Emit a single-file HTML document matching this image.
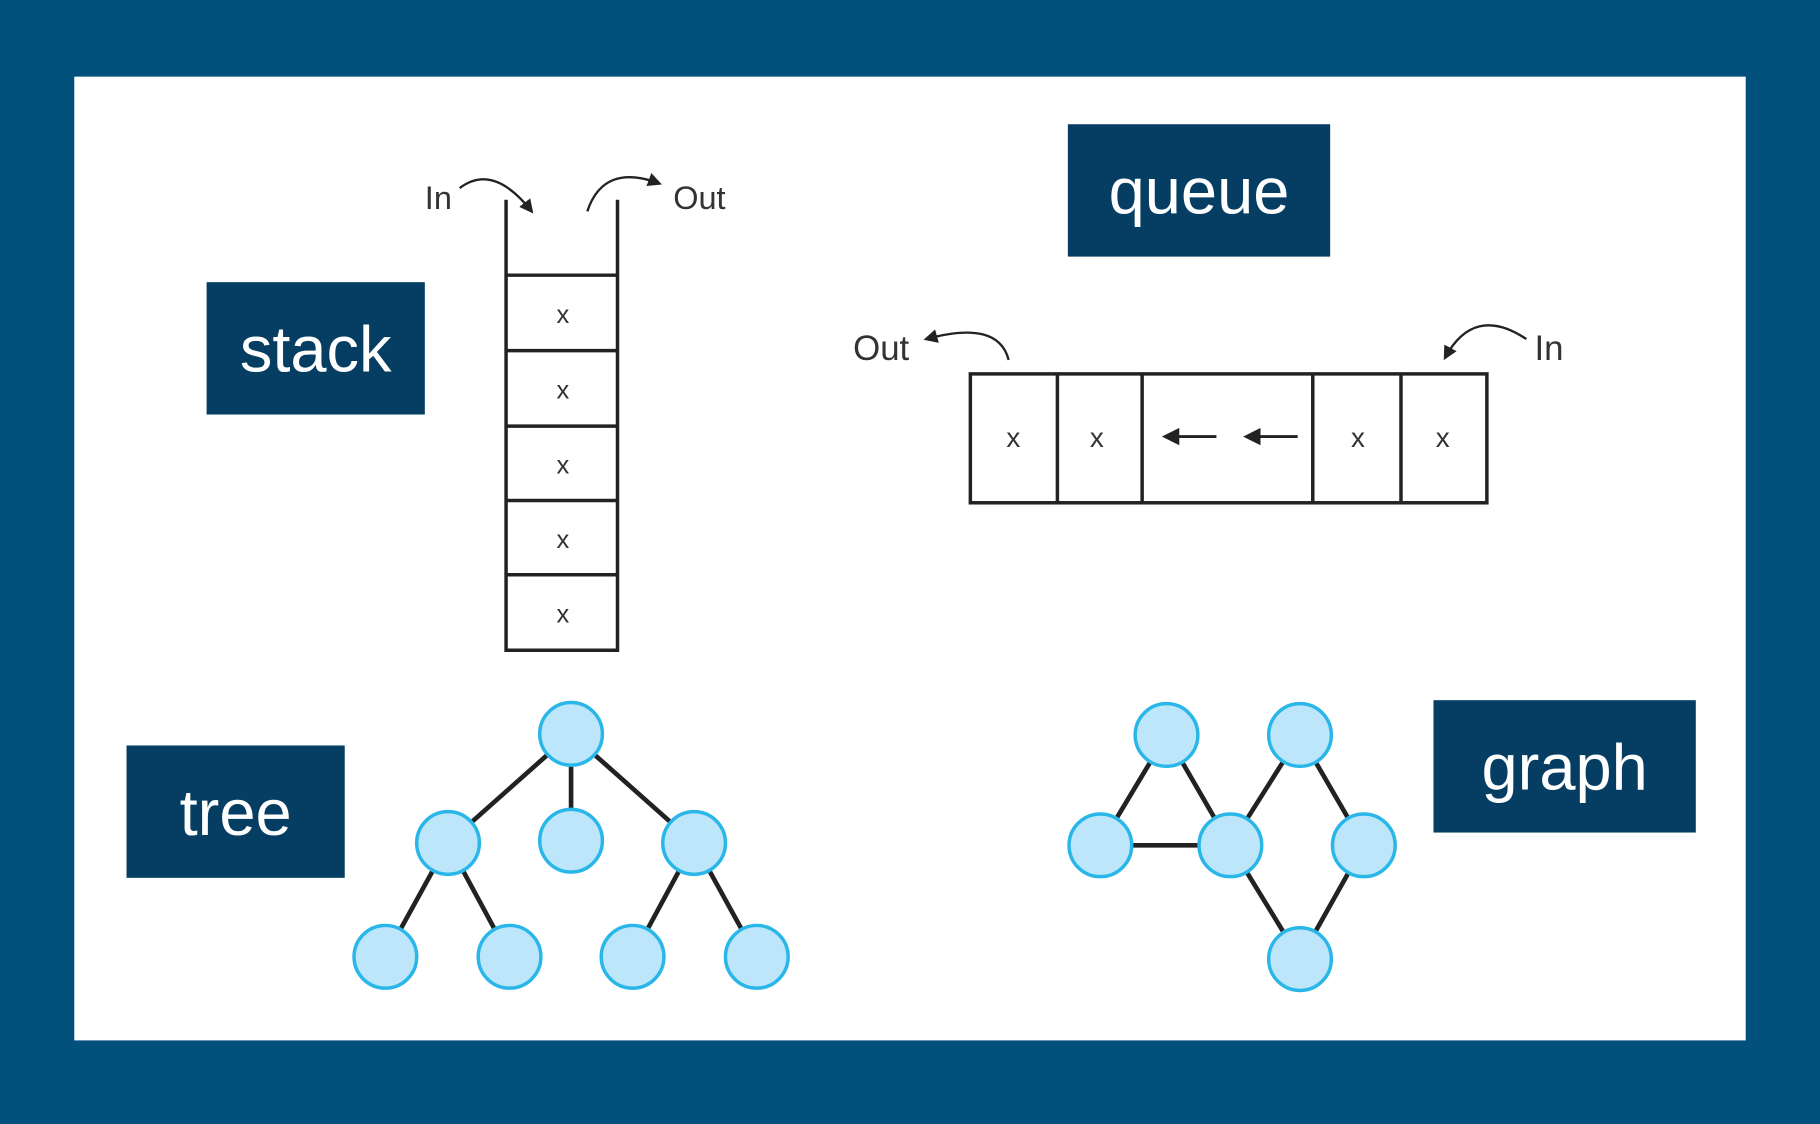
<!DOCTYPE html>
<html><head><meta charset="utf-8"><style>
html,body{margin:0;padding:0;background:#02507c;}
svg{display:block;}
.lbl{font-family:"Liberation Sans",sans-serif;fill:#fff;}
.sm{font-family:"Liberation Sans",sans-serif;fill:#333;}
</style></head><body>
<svg width="1820" height="1124" viewBox="0 0 1568 968" preserveAspectRatio="none" xmlns="http://www.w3.org/2000/svg">
<defs>
<marker id="ah" viewBox="0 0 10 10" refX="8" refY="5" markerWidth="6" markerHeight="6" orient="auto"><path d="M0,0 L10,5 L0,10 z" fill="#222"/></marker>
</defs>
<rect width="1568" height="968" fill="#02507c"/>
<rect x="64" y="66" width="1440" height="830" fill="#fff"/>

<!-- labels -->
<g><rect x="178" y="243" width="188" height="114" fill="#053e62"/><text class="lbl" x="272" y="320" font-size="56" text-anchor="middle">stack</text></g>
<g><rect x="920" y="107" width="226" height="114" fill="#053e62"/><text class="lbl" x="1033" y="184" font-size="56" text-anchor="middle">queue</text></g>
<g><rect x="109" y="642" width="188" height="114" fill="#053e62"/><text class="lbl" x="203" y="719" font-size="56" text-anchor="middle">tree</text></g>
<g><rect x="1235" y="603" width="226" height="114" fill="#053e62"/><text class="lbl" x="1348" y="680" font-size="56" text-anchor="middle">graph</text></g>

<!-- stack -->
<g stroke="#222" stroke-width="3" fill="none">
<path d="M436,172 V560 H532 V172"/>
<path d="M436,237 H532 M436,302 H532 M436,367 H532 M436,431 H532 M436,495 H532"/>
<path d="M396,162 Q425,140 458,182" stroke-width="2" marker-end="url(#ah)"/>
<path d="M506,182 Q520,140 568,158" stroke-width="2" marker-end="url(#ah)"/>
</g>
<g class="sm" font-size="22" text-anchor="middle">
<text x="485" y="278">x</text><text x="485" y="343">x</text><text x="485" y="408">x</text><text x="485" y="472">x</text><text x="485" y="536">x</text>
</g>
<text class="sm" x="366" y="180" font-size="28">In</text>
<text class="sm" x="580" y="180" font-size="28">Out</text>

<!-- queue -->
<g stroke="#222" stroke-width="3" fill="none">
<rect x="836" y="322" width="445" height="111"/>
<path d="M911,322 V433 M984,322 V433 M1131,322 V433 M1207,322 V433"/>
<path d="M1048,376 H1004" stroke-width="2.5" marker-end="url(#ah)"/>
<path d="M1118,376 H1074" stroke-width="2.5" marker-end="url(#ah)"/>
<path d="M869,310 Q860,275 798,292" stroke-width="2" marker-end="url(#ah)"/>
<path d="M1315,292 Q1270,262 1245,308" stroke-width="2" marker-end="url(#ah)"/>
</g>
<g class="sm" font-size="24" text-anchor="middle">
<text x="873" y="385">x</text><text x="945" y="385">x</text><text x="1170" y="385">x</text><text x="1243" y="385">x</text>
</g>
<text class="sm" x="735" y="310" font-size="30">Out</text>
<text class="sm" x="1322" y="310" font-size="30">In</text>

<!-- tree -->
<g>
<g stroke="#222" stroke-width="4">
<line x1="492" y1="632" x2="386" y2="726"/><line x1="492" y1="632" x2="492" y2="724"/><line x1="492" y1="632" x2="598" y2="726"/>
<line x1="386" y1="726" x2="332" y2="824"/><line x1="386" y1="726" x2="439" y2="824"/>
<line x1="598" y1="726" x2="545" y2="824"/><line x1="598" y1="726" x2="652" y2="824"/>
</g>
<g fill="#bde6fa" stroke="#29b6e8" stroke-width="3">
<circle cx="492" cy="632" r="27"/><circle cx="386" cy="726" r="27"/><circle cx="492" cy="724" r="27"/><circle cx="598" cy="726" r="27"/>
<circle cx="332" cy="824" r="27"/><circle cx="439" cy="824" r="27"/><circle cx="545" cy="824" r="27"/><circle cx="652" cy="824" r="27"/>
</g>
</g>

<!-- graph -->
<g>
<g stroke="#222" stroke-width="4">
<line x1="1005" y1="633" x2="948" y2="728"/><line x1="1005" y1="633" x2="1060" y2="728"/><line x1="948" y1="728" x2="1060" y2="728"/>
<line x1="1060" y1="728" x2="1120" y2="633"/><line x1="1120" y1="633" x2="1175" y2="728"/>
<line x1="1060" y1="728" x2="1120" y2="826"/><line x1="1175" y1="728" x2="1120" y2="826"/>
</g>
<g fill="#bde6fa" stroke="#29b6e8" stroke-width="3">
<circle cx="1005" cy="633" r="27"/><circle cx="1120" cy="633" r="27"/><circle cx="948" cy="728" r="27"/>
<circle cx="1060" cy="728" r="27"/><circle cx="1175" cy="728" r="27"/><circle cx="1120" cy="826" r="27"/>
</g>
</g>
</svg>
</body></html>
